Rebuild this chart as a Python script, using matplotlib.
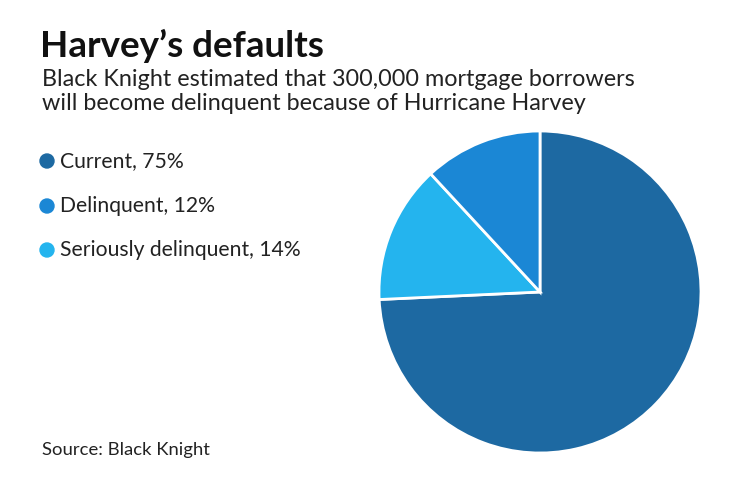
import matplotlib
matplotlib.use("Agg")
import matplotlib.pyplot as plt
from matplotlib.patches import Ellipse

labels = ["Current, 75%", "Seriously delinquent, 14%", "Delinquent, 12%"]
values = [75, 14, 12]
colors = ["#1d69a2", "#24b4ee", "#1b87d5"]
legend_order = [0, 2, 1]

W, H = 740, 482
fig = plt.figure(figsize=(W/100, H/100), dpi=100)
fig.patch.set_facecolor("white")
plt.rcParams['font.family'] = ['Lato', 'DejaVu Sans']

cx, cy, r = 540, 292, 161
ax = fig.add_axes([(cx-r)/W, (H-cy-r)/H, 2*r/W, 2*r/H])
ax.pie(values, colors=colors, startangle=90, counterclock=False, radius=1,
       wedgeprops=dict(edgecolor="white", linewidth=2))
ax.set_xlim(-1, 1); ax.set_ylim(-1, 1)
ax.set_aspect("equal")

def t(x, y, s, **kw):
    fig.text(x/W, 1-y/H, s, **kw)

t(40, 46, "Harvey’s defaults", fontsize=26.5, fontweight="bold", color="#111111", va="center")
t(42, 80, "Black Knight estimated that 300,000 mortgage borrowers", fontsize=16.8, color="#222222", va="center")
t(42, 104, "will become delinquent because of Hurricane Harvey", fontsize=16.8, color="#222222", va="center")
for i, y in zip(legend_order, [161, 206, 250]):
    fig.add_artist(Ellipse((47/W, 1-y/H), 14/W, 14/H, transform=fig.transFigure,
                           color=colors[i]))
    t(60, y, labels[i], fontsize=15.2, color="#222222", va="center")
t(42, 450, "Source: Black Knight", fontsize=13.3, color="#222222", va="center")
fig.savefig("out.png", dpi=100)
